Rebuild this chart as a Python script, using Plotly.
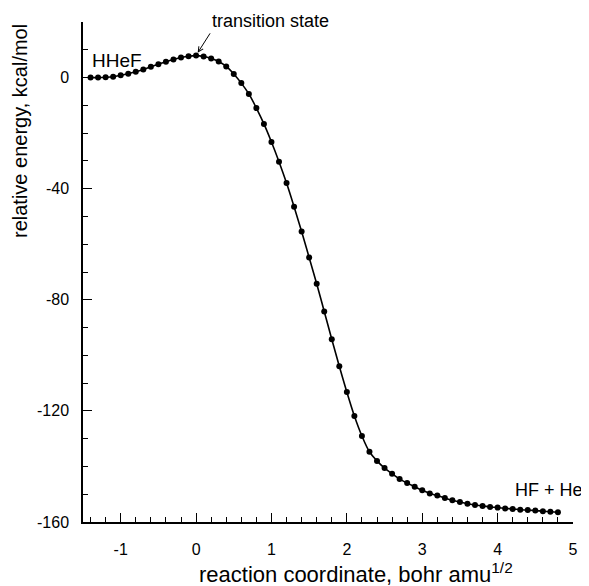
import plotly.graph_objects as go

# reaction path: coordinate (bohr amu^1/2) and relative energy (kcal/mol)
coord = [-1.4, -1.3, -1.2, -1.1, -1.0, -0.9, -0.8, -0.7, -0.6, -0.5,
         -0.4, -0.3, -0.2, -0.1, 0.0, 0.1, 0.2, 0.3, 0.4, 0.5,
         0.6, 0.7, 0.8, 0.9, 1.0, 1.1, 1.2, 1.3, 1.4, 1.5,
         1.6, 1.7, 1.8, 1.9, 2.0, 2.1, 2.2, 2.3, 2.4, 2.5,
         2.6, 2.7, 2.8, 2.9, 3.0, 3.1, 3.2, 3.3, 3.4, 3.5,
         3.6, 3.7, 3.8, 3.9, 4.0, 4.1, 4.2, 4.3, 4.4, 4.5,
         4.6, 4.7, 4.8]
energy = [0.0, 0.0, 0.1, 0.3, 0.8, 1.4, 2.1, 2.9, 3.9, 4.8,
          5.7, 6.5, 7.2, 7.7, 7.9, 7.6, 6.9, 5.8, 4.0, 1.3,
          -2.0, -5.9, -11.0, -16.7, -23.2, -30.3, -38.0, -46.5, -55.4, -64.8,
          -74.2, -84.2, -94.2, -103.9, -113.2, -121.8, -129.0, -134.7, -138.0, -140.6,
          -142.6, -144.5, -146.0, -147.3, -148.6, -149.7, -150.5, -151.4, -152.2, -152.8,
          -153.4, -153.9, -154.2, -154.6, -154.8, -155.1, -155.3, -155.6, -155.7, -155.9,
          -156.1, -156.3, -156.5]

x_ticks = [-1, 0, 1, 2, 3, 4, 5]
x_labels = ["-1", "0", "1", "2", "3", "4", "5"]
y_ticks = [-160, -120, -80, -40, 0]
y_labels = ["-160", "-120", "-80", "-40", "0"]

FONT = "Liberation Sans, Arial, Helvetica, sans-serif"

fig = go.Figure(go.Scatter(
    x=coord, y=energy, mode="lines+markers",
    line=dict(color="black", width=1.6, shape="spline"),
    marker=dict(color="black", size=6),
    cliponaxis=False,
))

# page body adds an 8px offset, so the figure is 8px smaller than the window
fig.update_layout(
    width=581, height=578,
    margin=dict(l=75, r=16, t=14, b=64),
    plot_bgcolor="white", paper_bgcolor="white",
    showlegend=False,
    font=dict(family=FONT, color="black", size=15),
)
fig.update_xaxes(
    range=[-1.5, 5], tickvals=x_ticks, ticktext=x_labels,
    showgrid=False, zeroline=False,
    showline=True, linecolor="black", linewidth=1.5,
    ticks="inside", ticklen=9, tickwidth=1, tickcolor="black",
    ticklabelstandoff=12, tickfont=dict(size=16),
    minor=dict(dtick=0.2, tick0=0, ticks="inside", ticklen=5, tickcolor="black", showgrid=False),
)
fig.update_yaxes(
    range=[-160, 20], tickvals=y_ticks, ticktext=y_labels,
    showgrid=False, zeroline=False,
    showline=True, linecolor="black", linewidth=1.5,
    ticks="inside", ticklen=9, tickwidth=1, tickcolor="black",
    ticklabelstandoff=9, tickfont=dict(size=16),
    minor=dict(dtick=10, tick0=0, ticks="inside", ticklen=5, tickcolor="black", showgrid=False),
)

# axis titles
fig.add_annotation(text="reaction coordinate, bohr amu<sup>1/2</sup>",
                   xref="paper", yref="paper", x=0.2327, y=0, yshift=-51,
                   xanchor="left", yanchor="middle", showarrow=False,
                   font=dict(size=22))
fig.add_annotation(text="relative energy, kcal/mol", textangle=-90,
                   xref="paper", yref="paper", x=0, xshift=-63, y=0.782,
                   xanchor="center", yanchor="middle", showarrow=False,
                   font=dict(size=20))

# labels
fig.add_annotation(text="transition state", x=0, y=8, ax=14, ay=-22,
                   xanchor="left", yanchor="bottom",
                   showarrow=True, arrowhead=5, arrowsize=1, arrowwidth=1,
                   arrowcolor="black", standoff=3, font=dict(size=18))
fig.add_annotation(text="HHeF", x=-1.05, y=6.3, showarrow=False, font=dict(size=19))
fig.add_annotation(text="HF + He", x=4.99, y=-148.6, xanchor="right", xshift=13,
                   showarrow=False, font=dict(size=18))

fig.write_html("out.html")
